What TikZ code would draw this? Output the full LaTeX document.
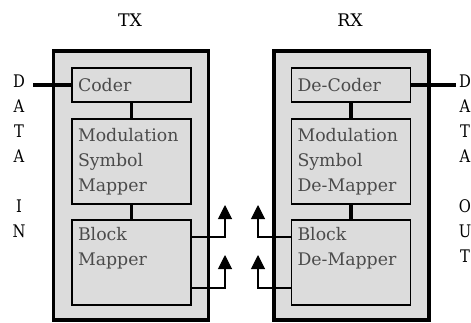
\documentclass[tikz,border=0pt]{standalone}
\usepackage{fontspec}
\setmainfont{DejaVu Serif}
\newfontfamily\capfont[FakeStretch=0.85]{DejaVu Serif}
\usetikzlibrary{positioning,arrows.meta}
\definecolor{boxgray}{RGB}{220,220,220}
\definecolor{textgray}{RGB}{75,75,75}

\begin{document}
\begin{tikzpicture}[x=0.75pt,y=-0.75pt,node distance=12.75pt,
        every node/.style={font=\fontsize{13}{18.75}\selectfont},
        frame/.style={draw,line width=2.6pt,fill=boxgray,minimum width=116.25pt,minimum height=201.75pt,outer sep=0pt},
        block/.style={draw,line width=0.8pt,fill=boxgray,text=textgray,align=left,text width=80.25pt,inner xsep=4.5pt,inner ysep=0pt,outer sep=0pt},
        link/.style={line width=2.6pt},
        feed/.style={line width=0.8pt,-{Triangle[width=10.5pt,length=10.5pt]}},
        letters/.style={align=center,inner sep=0pt,font=\capfont\fontsize{13}{18.75}\selectfont}]
   \useasboundingbox (0,0) rectangle (471,322);

   % transmitter
   \node (txl) at (130,20) {TX};
   \node[frame] (tx) at (131,185.5) {};
   \node[block,minimum height=25.5pt] (coder) at (131.5,85) {Coder};
   \node[block,minimum height=63.75pt,below=of coder] (mod) {Modulation\\Symbol\\Mapper};
   \node[block,minimum height=63.75pt,below=12pt of mod] (map) {Block\\Mapper\\\strut};
   \draw[link] (coder) -- (mod);
   \draw[link] (mod) -- (map);

   \node[letters,anchor=north] (din) at (19,75) {D\\A\\T\\A\\\mbox{}\\I\\N};
   \coordinate (inend) at (33,85);
   \draw[link] (inend) -- (coder.west);

   \coordinate (tu) at (225,205);
   \coordinate (tl) at (225,255);
   \draw[feed] ([yshift=-12.75pt]map.north east) -| (tu);
   \draw[feed] ([yshift=12.75pt]map.south east) -| (tl);

   % receiver
   \node (rxl) at (350,20) {RX};
   \node[frame] (rx) at (351.5,185.5) {};
   \node[block,minimum height=25.5pt] (decoder) at (351,85) {De-Coder};
   \node[block,minimum height=63.75pt,below=of decoder] (demod) {Modulation\\Symbol\\De-Mapper};
   \node[block,minimum height=63.75pt,below=12pt of demod] (demap) {Block\\De-Mapper\\\strut};
   \draw[link] (decoder) -- (demod);
   \draw[link] (demod) -- (demap);

   \node[letters,anchor=north] (dout) at (465,75) {D\\A\\T\\A\\\mbox{}\\O\\U\\T};
   \coordinate (outend) at (456,85);
   \draw[link] (decoder.east) -- (outend);

   \coordinate (ru) at (258,205);
   \coordinate (rl) at (258,255);
   \draw[feed] ([yshift=-12.75pt]demap.north west) -| (ru);
   \draw[feed] ([yshift=12.75pt]demap.south west) -| (rl);

\end{tikzpicture}
\end{document}
